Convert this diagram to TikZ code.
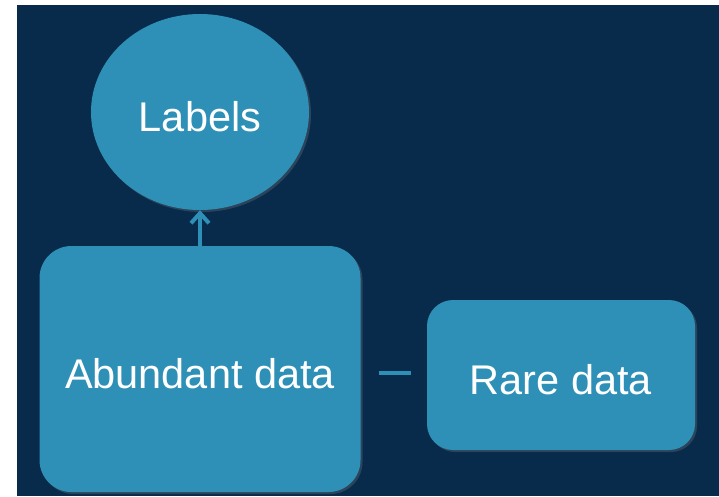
\documentclass[tikz,border=0pt]{standalone}
\usepackage{fontspec}
\setmainfont{Liberation Sans}
\usetikzlibrary{calc}
\usetikzlibrary{shapes.geometric}
\usetikzlibrary{shadows}
\usetikzlibrary{arrows.meta}
\definecolor{navy}{HTML}{082B4B}
\definecolor{tealbox}{HTML}{2E90B6}
\newcommand{\Lw}[1]{\raisebox{-5pt}[\height][\depth]{#1}}
\tikzset{
  databox/.style={fill=tealbox, rounded corners=#1, inner sep=0pt,
    text=white, font=\fontsize{41.5}{48}\selectfont,
    drop shadow={shadow xshift=2pt, shadow yshift=-2pt, opacity=0.3}},
  databox/.default=32pt,
  link/.style={draw=tealbox, line width=4pt}
}

\begin{document}
\begin{tikzpicture}[x=1pt,y=-1pt]
%\draw[help lines,step=50pt] (0,0) grid (719,496);
\fill[white] (0,0) rectangle (719,496);
\fill[navy] (17,5) rectangle (719,496);
\useasboundingbox (0,0) rectangle (719,496);

%%%%%%%%%%%%%%%%%%%%%%%%%%%%%%%%%%%%%%%%%%%%%%%%%%%%%%%%%%%%%% labels
\coordinate (A) at (200, 112);
\node[ellipse, fill=tealbox, minimum width=218pt, minimum height=196pt, inner sep=0pt,
  text=white, font=\fontsize{41.5}{48}\selectfont,
  drop shadow={shadow xshift=2pt, shadow yshift=-2pt, opacity=0.3}] (labels) at ($(A)$) {\Lw{Labels}};

%%%%%%%%%%%%%%%%%%%%%%%%%%%%%%%%%%%%%%%%%%%%%%%%%%%%%%%%%%%%%% data
\node[databox, minimum width=321pt, minimum height=246pt] (abundant) at ($(A)+(0,257)$) {\Lw{Abundant data}};
\node[databox=26pt, minimum width=268pt, minimum height=150pt] (rare) at ($(A)+(361,263)$) {\Lw{Rare data}};

%%%%%%%%%%%%%%%%%%%%%%%%%%%%%%%%%%%%%%%%%%%%%%%%%%%%%%%%%%%%%% links
\draw[link, -{Straight Barb[length=10pt,width=18pt]}] (abundant.north) -- (labels.south);
\draw[link] ($(abundant.east)+(18,4)$) -- ($(rare.west)+(-16,-2)$);

\end{tikzpicture}
\end{document}
